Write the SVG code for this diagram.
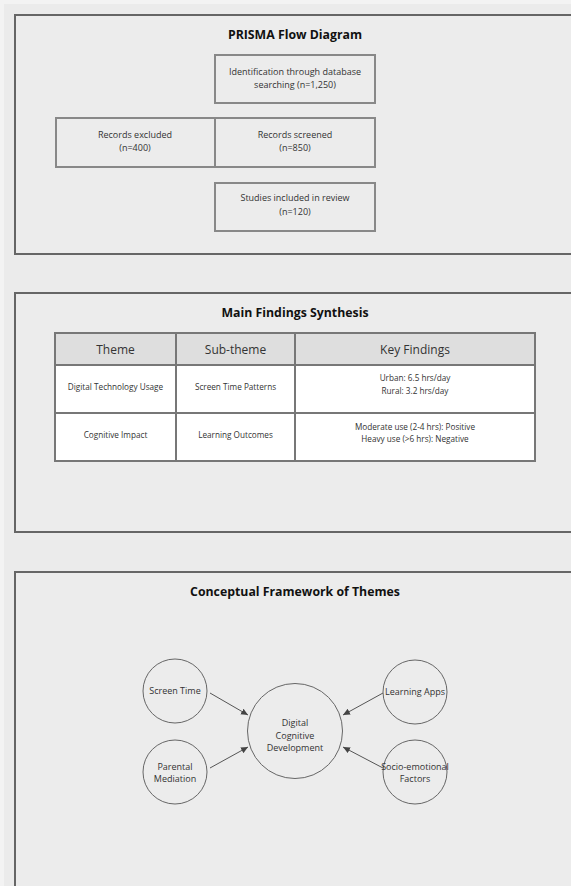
<svg xmlns="http://www.w3.org/2000/svg" width="571" height="886" viewBox="0 0 571 886">
<defs>
<style>
.panel{fill:#ececec;stroke:#666;stroke-width:2}
.title{font-family:"Open Sans","Liberation Sans",sans-serif;font-weight:bold;font-size:12.3px;fill:#111;text-anchor:middle}
.box{fill:#ececec;stroke:#888;stroke-width:2}
.bt{font-family:"Open Sans","Liberation Sans",sans-serif;font-size:9px;fill:#333;text-anchor:middle}
.hdr{fill:#dedede;stroke:#777;stroke-width:2}
.cell{fill:#ffffff;stroke:#777;stroke-width:2}
.ht{font-family:"Open Sans","Liberation Sans",sans-serif;font-size:12px;fill:#333;text-anchor:middle}
.ct{font-family:"Open Sans","Liberation Sans",sans-serif;font-size:8.2px;fill:#333;text-anchor:middle}
.circ{fill:#ececec;stroke:#666;stroke-width:1}
.nt{font-family:"Open Sans","Liberation Sans",sans-serif;font-size:9px;fill:#333;text-anchor:middle}
.conn{stroke:#555;stroke-width:1;fill:none;marker-end:url(#arr)}
</style>
<marker id="arr" markerWidth="8" markerHeight="8" refX="7" refY="4" orient="auto" markerUnits="userSpaceOnUse">
<path d="M0,0.8 L7,4 L0,7.2 Z" fill="#444"/>
</marker>
</defs>
<rect x="0" y="0" width="571" height="886" fill="#f3f3f3"/>
<rect x="4" y="4" width="567" height="882" fill="#ebebeb"/>

<g id="panel-prisma">
<rect class="panel" x="15" y="15" width="570" height="239"/>
<text class="title" x="295" y="39">PRISMA Flow Diagram</text>
</g>
<g id="node-identification">
<rect class="box" x="215" y="55" width="160" height="48"/>
<text class="bt" x="295" y="75">Identification through database</text>
<text class="bt" x="295" y="88">searching (n=1,250)</text>
</g>
<g id="node-excluded">
<rect class="box" x="56" y="118" width="159" height="49"/>
<text class="bt" x="135" y="138">Records excluded</text>
<text class="bt" x="135" y="151">(n=400)</text>
</g>
<g id="node-screened">
<rect class="box" x="215" y="118" width="160" height="49"/>
<text class="bt" x="295" y="138">Records screened</text>
<text class="bt" x="295" y="151">(n=850)</text>
</g>
<g id="node-included">
<rect class="box" x="215" y="183" width="160" height="48"/>
<text class="bt" x="295" y="201">Studies included in review</text>
<text class="bt" x="295" y="215">(n=120)</text>
</g>

<g id="panel-findings">
<rect class="panel" x="15" y="293" width="570" height="239"/>
<text class="title" x="295" y="317">Main Findings Synthesis</text>
</g>
<g id="table">
<rect class="hdr" x="55" y="333" width="121" height="32"/>
<rect class="hdr" x="176" y="333" width="119" height="32"/>
<rect class="hdr" x="295" y="333" width="240" height="32"/>
<rect class="cell" x="55" y="365" width="121" height="48"/>
<rect class="cell" x="176" y="365" width="119" height="48"/>
<rect class="cell" x="295" y="365" width="240" height="48"/>
<rect class="cell" x="55" y="413" width="121" height="48"/>
<rect class="cell" x="176" y="413" width="119" height="48"/>
<rect class="cell" x="295" y="413" width="240" height="48"/>
<text class="ht" x="115.5" y="354">Theme</text>
<text class="ht" x="235.5" y="354">Sub-theme</text>
<text class="ht" x="415" y="354">Key Findings</text>
<text class="ct" x="115.5" y="390">Digital Technology Usage</text>
<text class="ct" x="235.5" y="390">Screen Time Patterns</text>
<text class="ct" x="415" y="381">Urban: 6.5 hrs/day</text>
<text class="ct" x="415" y="394">Rural: 3.2 hrs/day</text>
<text class="ct" x="115.5" y="438">Cognitive Impact</text>
<text class="ct" x="235.5" y="438">Learning Outcomes</text>
<text class="ct" x="415" y="430">Moderate use (2-4 hrs): Positive</text>
<text class="ct" x="415" y="442">Heavy use (&gt;6 hrs): Negative</text>
</g>

<g id="panel-framework">
<rect class="panel" x="15" y="572" width="570" height="330"/>
<text class="title" x="295" y="596">Conceptual Framework of Themes</text>
</g>
<g id="connectors">
<line class="conn" x1="210" y1="693" x2="248" y2="715"/>
<line class="conn" x1="210" y1="768" x2="248" y2="747"/>
<line class="conn" x1="383" y1="693" x2="343" y2="715"/>
<line class="conn" x1="383" y1="768" x2="343" y2="747"/>
</g>
<g id="node-screen-time">
<circle class="circ" cx="175" cy="691" r="32"/>
<text class="nt" x="175" y="694">Screen Time</text>
</g>
<g id="node-parental-mediation">
<circle class="circ" cx="175" cy="772" r="32"/>
<text class="nt" x="175" y="770">Parental</text>
<text class="nt" x="175" y="782">Mediation</text>
</g>
<g id="node-center">
<circle class="circ" cx="295" cy="731" r="47.5"/>
<text class="nt" x="295" y="726">Digital</text>
<text class="nt" x="295" y="739">Cognitive</text>
<text class="nt" x="295" y="751">Development</text>
</g>
<g id="node-learning-apps">
<circle class="circ" cx="415" cy="692" r="32"/>
<text class="nt" x="415" y="695">Learning Apps</text>
</g>
<g id="node-socio-emotional">
<circle class="circ" cx="415" cy="772" r="32"/>
<text class="nt" x="415" y="770">Socio-emotional</text>
<text class="nt" x="415" y="782">Factors</text>
</g>
</svg>
